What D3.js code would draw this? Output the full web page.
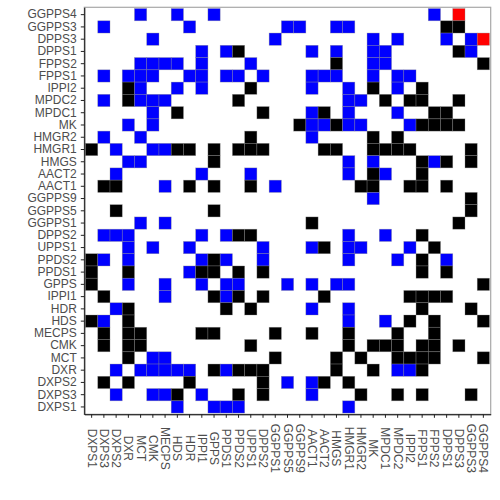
<!DOCTYPE html>
<html>
<head>
<meta charset="utf-8">
<script src="https://cdn.jsdelivr.net/npm/d3@7"></script>
<style>
  body { margin: 0; background: #fff; }
  text { font-family: "Liberation Sans", Arial, sans-serif; }
</style>
</head>
<body>
<div id="chart"></div>
<script>
// columns, left to right
var xLabels = ["DXPS1","DXPS3","DXPS2","DXR","MCT","CMK","MECPS","HDS","HDR","IPPI1","GPPS",
  "PPDS1","PPDS2","UPPS1","DPPS2","GGPPS1","GGPPS5","GGPPS9","AACT1","AACT2","HMGS","HMGR1",
  "HMGR2","MK","MPDC1","MPDC2","IPPI2","FPPS1","FPPS2","DPPS1","DPPS3","GGPPS3","GGPPS4"];

// rows, top to bottom
var yLabels = ["GGPPS4","GGPPS3","DPPS3","DPPS1","FPPS2","FPPS1","IPPI2","MPDC2","MPDC1","MK",
  "HMGR2","HMGR1","HMGS","AACT2","AACT1","GGPPS9","GGPPS5","GGPPS1","DPPS2","UPPS1","PPDS2",
  "PPDS1","GPPS","IPPI1","HDR","HDS","MECPS","CMK","MCT","DXR","DXPS2","DXPS3","DXPS1"];

// one string per row, one char per column: . none, B blue, K black, R red
var grid = [
  "....B..B..B.................B.R..",
  ".B......B.......BB..BB.......KK..",
  ".....B.........B.......B.B...B.BR",
  ".........B.BK.....B.B..BB.....KB.",
  "....BBBB.B...B......K..BB.......K",
  ".B.BBB..BB.BB.B...BBB..B.BB......",
  "...KB..B.B...K....B..B.K.B.K.....",
  ".B.KBBB.....K........BB.K.KK..K..",
  ".....B.K......K...BK.B...B..KK...",
  "...B.B...........KBBKBB...BKKKK..",
  ".B..B........K....B....K.K.......",
  "K.B..BBKK.K.KKK....KK..KKKK....K.",
  "...BB.....K..........B.B...KBK.K.",
  "..B......B...B.......B.KB..K.....",
  ".KK...B.K.K..K.B......KK..KK.K...",
  ".......................B.......K.",
  "..K.......K....................K.",
  "....B.B...........K...........K..",
  ".BBB.....B.BKK.......B..B..K.....",
  "...B.B..B.....B...BK.BB...B.K....",
  "KB.B.....BKB..B......B...B.K.B...",
  "K..K....BKK.K.K............K.K...",
  "K..B..B..B.BB...B.B.BB..........K",
  ".K....B...KBK.K....K......KKKK...",
  "..BK.......K.K....B..B.....K...K.",
  "KB.K.................B..B.K.K...K",
  ".K.KK....KK....K..K..K...K..K....",
  ".K.KK........K.......K.KKK.KK.K..",
  "...K.BB........K....K.K..KKKK...K",
  "..B.BBBBB.KBKKK.....K..K.BBK.....",
  ".K.K....K.....K.B.BK.K...........",
  "..B..BBK.B..K.K...B...K..K.K...K.",
  ".......B..BBB........B..........."
];

var fillFor = { "B": "#0000ff", "K": "#000000", "R": "#ff0000" };

var width = 500, height = 500;
var panelL = 84.3, panelR = 490.7, panelT = 7.3, panelB = 414.3;

var svg = d3.select("#chart").append("svg")
    .attr("width", width)
    .attr("height", height);

var x = d3.scaleBand().domain(xLabels).range([panelL, panelR]).paddingOuter(0.1).paddingInner(0);
var y = d3.scaleBand().domain(yLabels).range([panelT, panelB]).paddingOuter(0.1).paddingInner(0);

var cells = [];
grid.forEach(function(row, i) {
  for (var j = 0; j < row.length; j++) {
    if (row[j] != ".") cells.push({ row: yLabels[i], col: xLabels[j], v: row[j] });
  }
});

svg.append("g").selectAll("rect")
    .data(cells)
    .enter().append("rect")
    .attr("x", function(d) { return x(d.col); })
    .attr("y", function(d) { return y(d.row); })
    .attr("width", x.bandwidth())
    .attr("height", y.bandwidth())
    .attr("fill", function(d) { return fillFor[d.v]; })
    .attr("stroke", "#8a8a8a")
    .attr("stroke-opacity", 0.55)
    .attr("stroke-width", 0.6);

// panel frame: grey top/right, black axis lines left/bottom
svg.append("rect")
    .attr("x", panelL).attr("y", panelT)
    .attr("width", panelR - panelL).attr("height", panelB - panelT)
    .attr("fill", "none")
    .attr("stroke", "#a8a8a8")
    .attr("stroke-width", 1.2);

var xAxis = svg.append("g")
    .attr("transform", "translate(0," + panelB + ")")
    .call(d3.axisBottom(x).tickSize(3.5).tickSizeOuter(0));
var yAxis = svg.append("g")
    .attr("transform", "translate(" + panelL + ",0)")
    .call(d3.axisLeft(y).tickSize(3.5).tickSizeOuter(0));

[xAxis, yAxis].forEach(function(ax) {
  ax.select(".domain").attr("stroke", "#000").attr("stroke-width", 1);
  ax.selectAll(".tick line").attr("stroke", "#222").attr("stroke-width", 1);
  ax.selectAll(".tick text")
    .attr("fill", "#4d4d4d")
    .style("font-size", "12px")
    .style("font-family", "'Liberation Sans', Arial, sans-serif");
});

yAxis.selectAll(".tick text").attr("x", -7.5);

xAxis.selectAll(".tick text")
    .attr("y", 0)
    .attr("dy", null)
    .attr("text-anchor", "middle")
    .attr("dominant-baseline", "central")
    .attr("transform", "translate(0,34) rotate(90)");
</script>
</body>
</html>
